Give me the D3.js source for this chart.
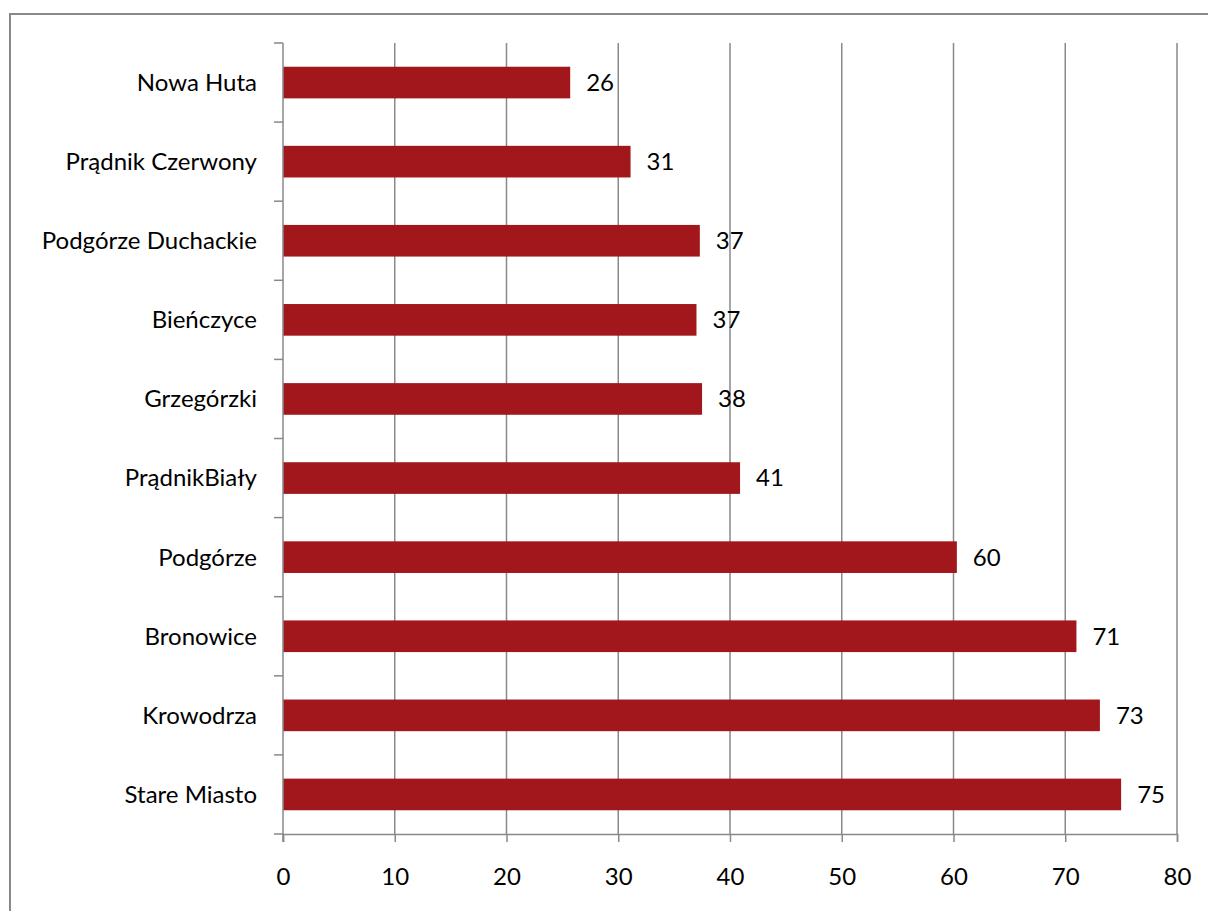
<!DOCTYPE html>
<html><head><meta charset="utf-8">
<script src="https://cdn.jsdelivr.net/npm/d3@7"></script>
<style>html,body{margin:0;padding:0;background:#fff;overflow:hidden}</style>
</head><body>
<svg id="c" width="1208" height="911"></svg>
<script>
const categories = ["Nowa Huta","Prądnik Czerwony","Podgórze Duchackie","Bieńczyce","Grzegórzki","PrądnikBiały","Podgórze","Bronowice","Krowodrza","Stare Miasto"];
const values = [25.7, 31.1, 37.3, 37.0, 37.5, 40.9, 60.3, 71.0, 73.1, 75.0];
const xTicks = [0,10,20,30,40,50,60,70,80];

const svg = d3.select("#c");
const font = "Lato, 'Open Sans', sans-serif";
const fs = 24;
const grey = "#898989";
const pLeft = 283, pRight = 1177, pTop = 43, pBottom = 834;

svg.append("rect").attr("x",10).attr("y",14).attr("width",1260).attr("height",960)
  .attr("fill","#fff").attr("stroke",grey).attr("stroke-width",2);

const x = d3.scaleLinear().domain([0,80]).range([pLeft,pRight]);
const y = d3.scaleBand().domain(categories).range([pTop,pBottom]).paddingInner(0.6).paddingOuter(0.3);

// gridlines
svg.append("g").selectAll("line").data(xTicks.filter(d=>d>0)).join("line")
  .attr("x1",d=>x(d)).attr("x2",d=>x(d)).attr("y1",pTop).attr("y2",pBottom)
  .attr("stroke",grey).attr("stroke-width",1.5);

// bars
svg.append("g").selectAll("rect").data(values).join("rect")
  .attr("x",x(0)).attr("y",(d,i)=>y(categories[i]))
  .attr("width",d=>x(d)-x(0)).attr("height",y.bandwidth())
  .attr("fill","#A1171C");

// value labels
svg.append("g").selectAll("text").data(values).join("text")
  .attr("x",d=>x(d)+16).attr("y",(d,i)=>y(categories[i])+y.bandwidth()/2)
  .attr("dy","0.35em").attr("font-family",font).attr("font-size",fs).attr("fill","#000")
  .text(d=>Math.round(d));

// x axis
const xAxis = d3.axisBottom(x).tickValues(xTicks).tickSize(8).tickPadding(26).tickFormat(d3.format("d"));
const gx = svg.append("g").attr("transform",`translate(0,${pBottom})`).call(xAxis);
gx.select(".domain").attr("stroke",grey).attr("stroke-width",1.5);
gx.selectAll(".tick line").attr("stroke",grey).attr("stroke-width",1.5);
gx.selectAll(".tick text").attr("font-family",font).attr("font-size",fs).attr("fill","#000");

// y axis: ticks at category boundaries
const boundaries = d3.range(categories.length+1).map(i=>pTop + i*(pBottom-pTop)/categories.length);
svg.append("line").attr("x1",pLeft).attr("x2",pLeft).attr("y1",pTop).attr("y2",pBottom+8)
  .attr("stroke",grey).attr("stroke-width",1.5);
svg.append("g").selectAll("line").data(boundaries).join("line")
  .attr("x1",pLeft-9).attr("x2",pLeft).attr("y1",d=>d).attr("y2",d=>d)
  .attr("stroke",grey).attr("stroke-width",1.5);

svg.append("g").selectAll("text").data(categories).join("text")
  .attr("x",pLeft-26).attr("y",d=>y(d)+y.bandwidth()/2).attr("dy","0.35em")
  .attr("text-anchor","end").attr("font-family",font).attr("font-size",fs).attr("fill","#000")
  .text(d=>d);
</script>
</body></html>
